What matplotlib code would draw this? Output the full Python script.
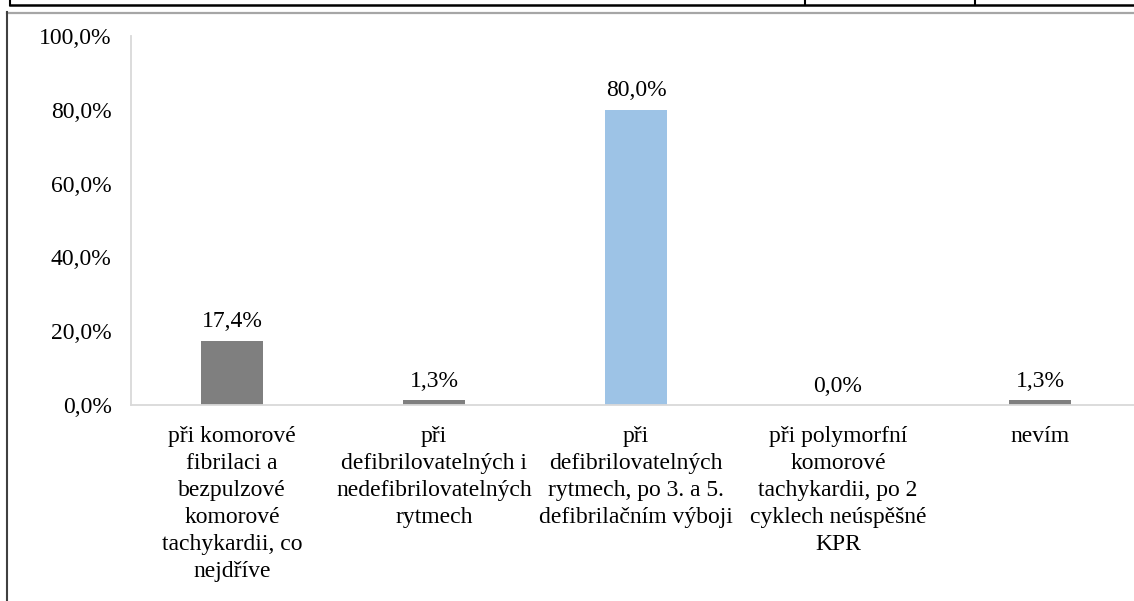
import matplotlib.pyplot as plt
from matplotlib.lines import Line2D

categories = [
    "při komorové\nfibrilaci a\nbezpulzové\nkomorové\ntachykardii, co\nnejdříve",
    "při\ndefibrilovatelných i\nnedefibrilovatelných\nrytmech",
    "při\ndefibrilovatelných\nrytmech, po 3. a 5.\ndefibrilačním výboji",
    "při polymorfní\nkomorové\ntachykardii, po 2\ncyklech neúspěšné\nKPR",
    "nevím",
]
values = [17.4, 1.3, 80.0, 0.0, 1.3]
y_ticks = [0, 20, 40, 60, 80, 100]

W, H = 1134, 601
plt.rcParams['font.family'] = ['Liberation Serif', 'DejaVu Serif']
fs = 17

fig = plt.figure(figsize=(W / 100, H / 100), dpi=100)

def px(x, y):
    return x / W, 1 - y / H

# axes in pixel coords: plot area from x=131 to 1141, y=36 to 405
l, b = px(131, 405)
r, t = px(1141, 36)
ax = fig.add_axes([l, b, r - l, t - b])

colors = ['#7f7f7f'] * len(values)
colors[values.index(max(values))] = '#9dc3e6'

x = range(len(values))
ax.bar(x, values, width=0.31, color=colors)
for i, v in enumerate(values):
    ax.annotate(f"{v:.1f}%".replace('.', ','), (i, v), xytext=(0, 6),
                textcoords='offset points', ha='center', va='bottom', fontsize=fs)

ax.set_xlim(-0.5, len(values) - 0.5)
ax.set_ylim(0, 100)
ax.set_yticks(y_ticks)
ax.set_yticklabels([f"{v:.1f}%".replace('.', ',') for v in y_ticks], fontsize=fs)
ax.set_xticks(list(x))
ax.set_xticklabels(categories, fontsize=fs, linespacing=1.38, va='top')
ax.tick_params(axis='both', length=0)
ax.tick_params(axis='y', pad=14)
ax.tick_params(axis='x', pad=15)

for s in ['top', 'right']:
    ax.spines[s].set_visible(False)
for s in ['left', 'bottom']:
    ax.spines[s].set_color('#d9d9d9')
    ax.spines[s].set_linewidth(1.3)

# surrounding table / frame lines
def line(x0, y0, x1, y1, c, lw):
    a, b_ = px(x0, y0)
    c_, d = px(x1, y1)
    fig.add_artist(Line2D([a, c_], [b_, d], color=c, lw=lw, transform=fig.transFigure))

line(10, 5, W, 5, 'black', 1.8)
line(10, 0, 10, 5, 'black', 1.5)
line(805, 0, 805, 5, 'black', 1.5)
line(975, 0, 975, 5, 'black', 1.5)
line(7, 12.5, W, 12.5, '#a6a6a6', 1.6)
line(7, 12, 7, H, '#404040', 1.5)

fig.savefig('out.png', dpi=100)
